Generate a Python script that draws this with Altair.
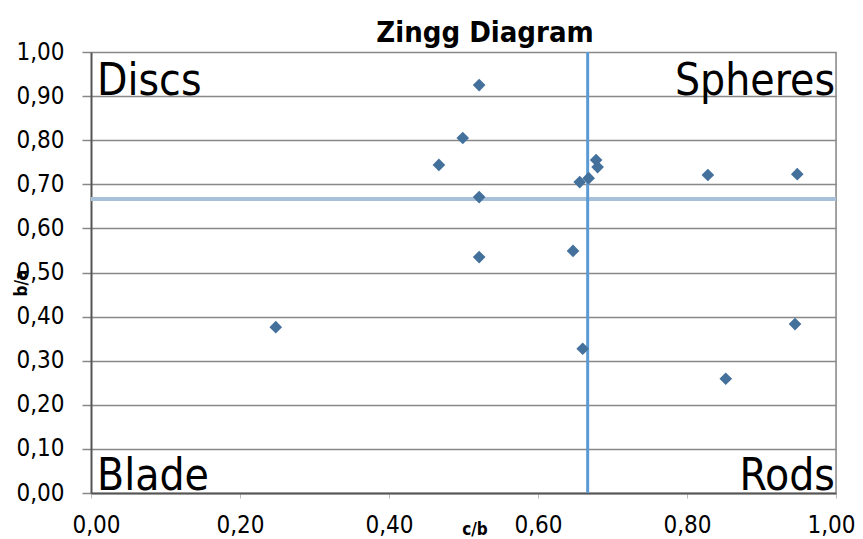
import altair as alt
import pandas as pd

cb = [0.521, 0.499, 0.467, 0.521, 0.521, 0.248, 0.647, 0.660, 0.656, 0.668, 0.678, 0.680, 0.828, 0.948, 0.945, 0.852]
ba = [0.925, 0.805, 0.744, 0.671, 0.535, 0.376, 0.549, 0.327, 0.705, 0.714, 0.755, 0.739, 0.721, 0.723, 0.383, 0.259]
threshold = 2 / 3
x_ticks = [0.0, 0.2, 0.4, 0.6, 0.8, 1.0]
y_ticks = [round(i * 0.1, 1) for i in range(11)]

df = pd.DataFrame({"cb": cb, "ba": ba})
FONT = "Liberation Sans Narrow, Arial Narrow, DejaVu Sans Condensed, Liberation Sans, sans-serif"
W, H = 745, 441

lab = "replace(format(datum.value, '.2f'), '.', ',')"
xs = alt.Scale(domain=[0, 1], nice=False, zero=False)
ys = alt.Scale(domain=[0, 1], nice=False, zero=False)

points = alt.Chart(df).mark_point(shape="diamond", filled=True, size=160, color="#44709c", opacity=1).encode(
    x=alt.X("cb:Q", scale=xs, title=None,
            axis=alt.Axis(values=x_ticks, labelExpr=lab, grid=False, tickSize=5, tickColor="#bbb",
                          tickWidth=1, labelPadding=15, labelFlush=True, labelFlushOffset=19)),
    y=alt.Y("ba:Q", scale=ys, title=None,
            axis=alt.Axis(values=y_ticks, labelExpr=lab, grid=True, gridColor="#888", gridWidth=1.5,
                          tickSize=9, tickColor="#888", tickWidth=1.5, labelPadding=18,
                          labelFlush=False)),
)

hline = alt.Chart(pd.DataFrame({"y": [threshold]})).mark_rule(color="#a7c1db", strokeWidth=4).encode(
    y=alt.Y("y:Q", scale=ys, title=None))
vline = alt.Chart(pd.DataFrame({"x": [threshold]})).mark_rule(color="#5b9bd5", strokeWidth=3).encode(
    x=alt.X("x:Q", scale=xs, title=None))
right = alt.Chart(pd.DataFrame({"x": [1.0]})).mark_rule(color="#888", strokeWidth=1.5).encode(
    x=alt.X("x:Q", scale=xs, title=None))

def text_at(text, x, y, align, size, weight="normal", angle=0, baseline="alphabetic"):
    return alt.Chart(pd.DataFrame({"t": [text]})).mark_text(
        font=FONT, fontSize=size, fontWeight=weight, align=align, baseline=baseline,
        angle=angle, color="#000").encode(text="t:N", x=alt.value(x), y=alt.value(y))

labels = text_at("Discs", 6, 43, "left", 44) + text_at("Spheres", 744, 43, "right", 44) + \
    text_at("Blade", 6, 438, "left", 44) + text_at("Rods", 744, 438, "right", 44)
title = text_at("Zingg Diagram", 394, -10, "center", 29, "bold")
xtitle = text_at("c/b", 384, 478, "center", 17, "bold", baseline="middle")
ytitle = text_at("b/a", -69, 231, "center", 17, "bold", angle=270, baseline="middle")

chart = alt.layer(right, hline, vline, points, labels, title, xtitle, ytitle).properties(
    width=W, height=H,
    autosize=alt.AutoSizeParams(type="none"),
    padding={"left": 83, "top": 44, "right": 19, "bottom": 60},
).configure_view(stroke=None).configure(background="white").configure_axis(
    labelFont=FONT, labelFontSize=24, labelColor="#000",
    domainColor="#555", domainWidth=2,
)

chart.save("out.html", embed_options={"renderer": "svg", "actions": False})
